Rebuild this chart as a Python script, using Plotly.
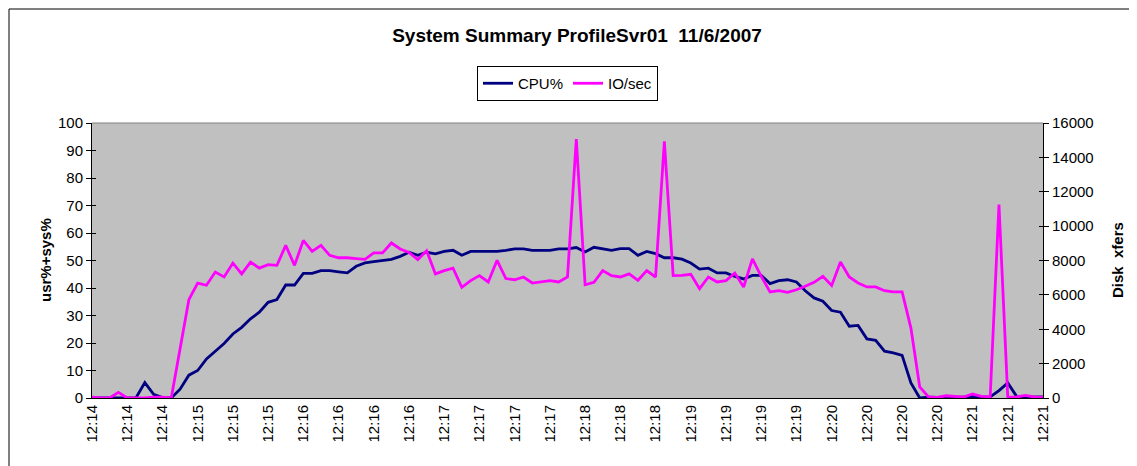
import plotly.graph_objects as go

# samples (about 4 s apart), one tick label every 4th sample
tick_labels = ["12:14", "12:14", "12:14",
               "12:15", "12:15", "12:15",
               "12:16", "12:16", "12:16", "12:16",
               "12:17", "12:17", "12:17", "12:17",
               "12:18", "12:18", "12:18",
               "12:19", "12:19", "12:19", "12:19",
               "12:20", "12:20", "12:20", "12:20",
               "12:21", "12:21", "12:21"]

cpu_pct = [0, 0, 0, 0.2, 0, 0.1, 5.6, 1.3, 0.2, 0,
           3.2, 8.3, 10, 14.2, 17, 19.8, 23.3, 25.7, 28.8, 31.2,
           34.8, 35.8, 41.1, 41.1, 45.3, 45.3, 46.3, 46.3, 45.9, 45.5,
           47.9, 49.1, 49.6, 49.9, 50.4, 51.5, 53, 51.9, 53, 52.4,
           53.3, 53.7, 51.9, 53.3, 53.3, 53.3, 53.3, 53.7, 54.2, 54.2,
           53.7, 53.7, 53.7, 54.2, 54.2, 54.7, 53.1, 54.8, 54.3, 53.7,
           54.3, 54.3, 51.9, 53.3, 52.5, 51, 51, 50.5, 49.1, 46.9,
           47.2, 45.5, 45.5, 44.2, 43.3, 44.6, 44.6, 41.6, 42.7, 43,
           42.2, 39, 36.4, 35.2, 31.8, 31.2, 26.1, 26.4, 21.5, 21,
           17, 16.4, 15.5, 5.5, 0, 0.3, 0.2, 0.4, 0.3, 0.3,
           0.6, 0.3, 0.4, 2.7, 5.5, 0.6, 0.3, 0.4, 0.4]

io_sec = [50, 0, 0, 330, 0, 0, 0, 50, 50, 0,
          2900, 5720, 6690, 6560, 7330, 7040, 7850, 7220, 7910, 7560,
          7760, 7720, 8880, 7720, 9170, 8530, 8880, 8300, 8160, 8160,
          8110, 8070, 8440, 8440, 9020, 8670, 8470, 8050, 8570, 7220,
          7410, 7560, 6440, 6830, 7120, 6750, 8010, 6950, 6880, 7040,
          6690, 6750, 6830, 6750, 7040, 15070, 6590, 6730, 7410, 7120,
          7040, 7220, 6850, 7410, 7040, 14930, 7120, 7140, 7200, 6360,
          7040, 6750, 6830, 7270, 6460, 8090, 7080, 6170, 6250, 6150,
          6300, 6500, 6730, 7080, 6550, 7910, 7040, 6690, 6460, 6460,
          6240, 6170, 6170, 4070, 640, 60, 30, 130, 90, 50,
          230, 100, 60, 11250, 50, 60, 150, 60, 50]

samples = list(range(len(cpu_pct)))
tick_pos = samples[::4]

FONT = "Liberation Sans, Arial, sans-serif"

# page has an 8px body margin; plot area is meant to sit at x 92..1043, y 123..398
def px_x(X):
    return (X - 92) / 951

def px_y(Y):
    return (398 - Y) / 275

fig = go.Figure()
fig.add_trace(go.Scatter(x=samples, y=cpu_pct, name="CPU%", mode="lines",
                         line=dict(color="#000080", width=2.8)))
fig.add_trace(go.Scatter(x=samples, y=io_sec, name="IO/sec", mode="lines",
                         yaxis="y2", line=dict(color="#FF00FF", width=2.8)))
# empty helpers so the inner half of the crossing tick marks gets drawn
fig.add_trace(go.Scatter(x=[], y=[], yaxis="y3", showlegend=False, hoverinfo="skip"))
fig.add_trace(go.Scatter(x=[], y=[], yaxis="y4", showlegend=False, hoverinfo="skip"))

axis_common = dict(showgrid=False, zeroline=False, showline=True,
                   linecolor="black", linewidth=1,
                   tickfont=dict(family=FONT, size=15, color="black"))

fig.update_layout(
    width=1137, height=466,
    margin=dict(l=84, r=102, t=115, b=76),
    paper_bgcolor="white", plot_bgcolor="#C0C0C0",
    font=dict(family=FONT, size=15, color="black"),
    title=dict(text="<b>System Summary ProfileSvr01  11/6/2007</b>",
               font=dict(family=FONT, size=19, color="black"),
               x=px_x(577), xref="paper", xanchor="center",
               y=1 - 27 / 466, yanchor="middle"),
    showlegend=True,
    legend=dict(orientation="h", x=0.5, xanchor="center", y=px_y(66), yanchor="top",
                bgcolor="white", bordercolor="black", borderwidth=1,
                font=dict(family=FONT, size=15, color="black"),
                itemwidth=30),
    xaxis=dict(axis_common, range=[0, len(samples) - 1], tickmode="array",
               tickvals=tick_pos, ticktext=tick_labels, tickangle=-90, ticks=""),
    yaxis=dict(axis_common, range=[0, 100], dtick=10, ticks="outside",
               ticklen=5, tickcolor="black"),
    yaxis2=dict(axis_common, range=[0, 16000], dtick=2000, tickformat="d",
                overlaying="y", side="right", ticks="outside", ticklen=5,
                tickcolor="black"),
    yaxis3=dict(range=[0, 100], dtick=10, overlaying="y", side="left",
                ticks="inside", ticklen=4, tickcolor="black", showticklabels=False,
                showgrid=False, zeroline=False, showline=False),
    yaxis4=dict(range=[0, 16000], dtick=2000, overlaying="y", side="right",
                ticks="inside", ticklen=4, tickcolor="black", showticklabels=False,
                showgrid=False, zeroline=False, showline=False),
    annotations=[
        dict(text="<b>usr%+sys%</b>", textangle=-90, xref="paper", yref="paper",
             x=px_x(45), y=px_y(260), xanchor="center", yanchor="middle",
             showarrow=False, font=dict(family=FONT, size=15, color="black")),
        dict(text="<b>Disk  xfers</b>", textangle=-90, xref="paper", yref="paper",
             x=px_x(1117), y=px_y(260), xanchor="center", yanchor="middle",
             showarrow=False, font=dict(family=FONT, size=15, color="black")),
    ],
    shapes=[
        # grey top border of the plot area
        dict(type="line", xref="paper", yref="paper", x0=0, x1=1, y0=1, y1=1,
             line=dict(color="#808080", width=1)),
        # chart area frame (right and bottom edges fall outside the window)
        dict(type="rect", xref="paper", yref="paper",
             x0=px_x(9), x1=px_x(1160), y0=px_y(490), y1=px_y(9),
             line=dict(color="black", width=1)),
    ],
)

fig.write_html("out.html")
